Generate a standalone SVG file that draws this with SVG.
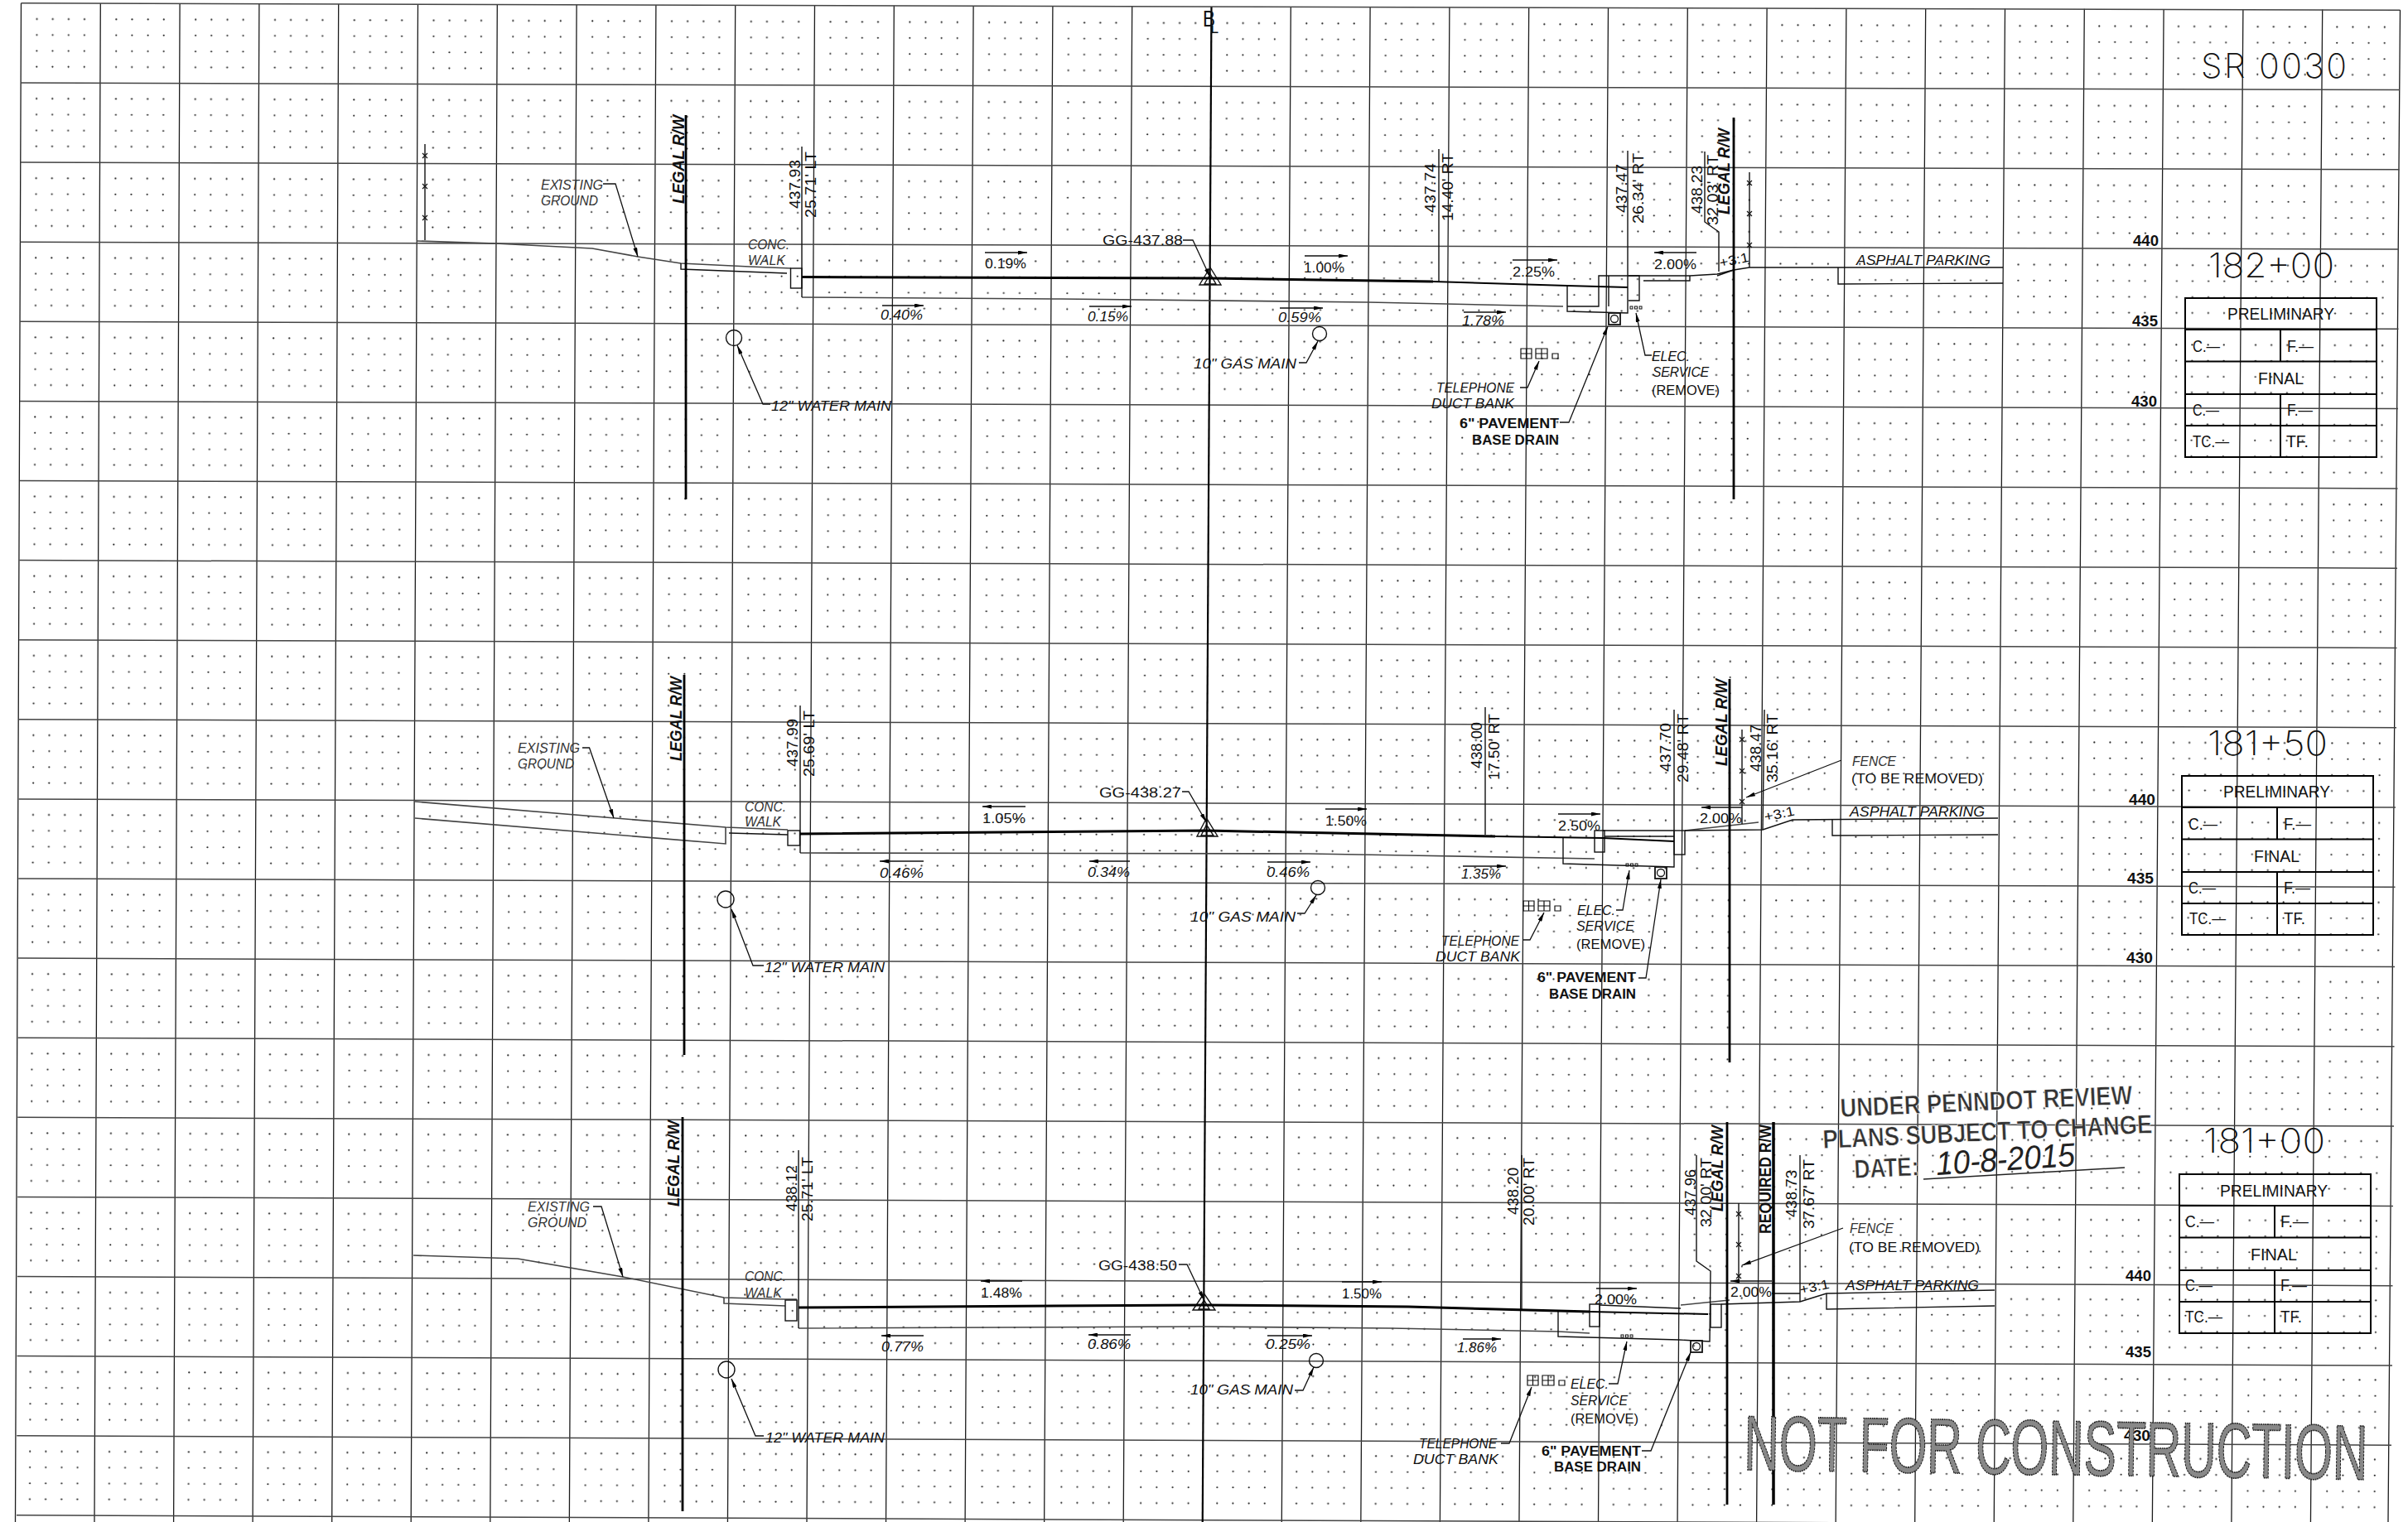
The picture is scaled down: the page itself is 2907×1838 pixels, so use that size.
<svg xmlns="http://www.w3.org/2000/svg" width="2907" height="1838" viewBox="0 0 2907 1838">
<style>
text{font-family:"Liberation Sans",Arial,sans-serif;fill:#111}
.l{font-size:16px;font-style:italic}
.g{font-size:16px;font-style:italic;fill:#333}
.u{font-size:16px}
.b{font-size:16px;font-weight:700}
.n{font-size:19px}
.r{font-size:20px;font-weight:700;font-style:italic}
.q{font-size:20px;font-weight:700}
.h{font-size:20px}
.e{font-size:18px;font-weight:700}
.s{font-size:41px;font-family:"Inter","Liberation Sans",sans-serif;font-weight:200}
.st{font-size:32px;font-weight:700;fill:#333;stroke:#fff;stroke-width:.6;paint-order:normal}
.nf{font-size:94px;fill:#888;stroke:#222;stroke-width:1.6;stroke-dasharray:3 1.2}
.ln{fill:none;stroke:#111;stroke-width:1.4}
.gy{fill:none;stroke:#444;stroke-width:1.6}
.th{fill:none;stroke:#000;stroke-width:3}
.rw{fill:none;stroke:#000;stroke-width:2.8}
.ld{fill:none;stroke:#111;stroke-width:1.3;marker-end:url(#a)}
.sl{fill:none;stroke:#111;stroke-width:1.3;marker-end:url(#a)}
.tb{fill:none;stroke:#000;stroke-width:2}
</style>
<defs>
<marker id="a" markerUnits="userSpaceOnUse" markerWidth="11" markerHeight="5" refX="11" refY="2.5" orient="auto"><path d="M0 0L11 2.5L0 5z" fill="#000"/></marker>
<pattern id="dl" patternUnits="userSpaceOnUse" width="95.8" height="96.1" patternTransform="matrix(1 .0035 -.00484 1 25.5 3.7)"><g id="dots" fill="#222"><circle cx="19.2" cy="19.2" r="1.1"/><circle cx="38.3" cy="19.2" r="1.1"/><circle cx="57.5" cy="19.2" r="1.1"/><circle cx="76.6" cy="19.2" r="1.1"/><circle cx="19.2" cy="38.4" r="1.1"/><circle cx="38.3" cy="38.4" r="1.1"/><circle cx="57.5" cy="38.4" r="1.1"/><circle cx="76.6" cy="38.4" r="1.1"/><circle cx="19.2" cy="57.7" r="1.1"/><circle cx="38.3" cy="57.7" r="1.1"/><circle cx="57.5" cy="57.7" r="1.1"/><circle cx="76.6" cy="57.7" r="1.1"/><circle cx="19.2" cy="76.9" r="1.1"/><circle cx="38.3" cy="76.9" r="1.1"/><circle cx="57.5" cy="76.9" r="1.1"/><circle cx="76.6" cy="76.9" r="1.1"/></g></pattern>
<pattern id="dr" patternUnits="userSpaceOnUse" width="95.7" height="96.1" patternTransform="matrix(1 .0035 -.00686 1 1462.5 8.6)"><use href="#dots"/></pattern>
<path id="x" d="M-3 -3L3 3M-3 3L3 -3" fill="none" stroke="#111" stroke-width="1.2"/>
<g id="duct" fill="none" stroke="#111" stroke-width="1.2"><path d="M0 0h13v12h-13zM6.500 0v12M0 6h13M18 0h14v12h-14zM25 0v12M18 6h14M38 6h7v6h-7z"/></g>
<g id="drain" fill="none" stroke="#111" stroke-width="1.8"><rect width="14" height="14"/><circle cx="7" cy="7" r="4.500" stroke-width="1.3"/></g>
<g id="elec" fill="none" stroke="#111" stroke-width="1"><rect width="3" height="3"/><rect x="5.500" width="3" height="3"/><rect x="11" width="3" height="3"/></g>
<g id="frame" class="tb"><rect width="231" height="192"/><path d="M0 38H231M0 76.500H231M0 116H231M0 154H231M115 38V76.500M115 116V192"/></g>
</defs>

<g id="grid">
<path d="M25.500 3.700L1462.500 8.600L1451.750 1838L18.500 1838Z" fill="url(#dl)"/>
<path d="M1462.500 8.600L2897.500 12.200L2883 1838L1451.750 1838Z" fill="url(#dr)"/>
<path fill="none" stroke="#1c1c1c" stroke-width="1.300" d="M25.500 3.700L18.500 1838M121.300 4L114 1838M217.100 4.500L209.600 1838M312.900 4.800L305.100 1838M408.700 5L400.700 1838M504.500 5.200L496.200 1838M600.300 5.500L591.800 1838M696.100 5.800L687.350 1838M791.900 6L782.900 1838M887.700 6.300L878.450 1838M983.500 6.500L974 1838M1079.300 6.800L1069.550 1838M1175.100 7.100L1165.100 1838M1270.900 7.400L1260.650 1838M1366.700 7.600L1356.200 1838M1558.300 8.200L1547.300 1838M1654.100 8.500L1642.850 1838M1749.900 8.800L1738.400 1838M1845.700 9L1833.950 1838M1941.500 9.300L1929.500 1838M2037.300 9.600L2025.050 1838M2133.100 9.800L2120.600 1838M2228.900 10.100L2216.150 1838M2324.700 10.300L2311.700 1838M2420.500 10.600L2407.250 1838M2516.300 10.800L2502.800 1838M2612.100 11.100L2598.350 1838M2707.900 11.300L2693.900 1838M2803.700 11.600L2789.450 1838M2897.500 12L2883 1838"/>
<path fill="none" stroke="#444" stroke-width="1.500" d="M25.500 3.800L2897.500 12.200M25 100L2897 108.500M24.800 196.100L2896.500 204.800M24.500 292.200L2896 301M24.200 388.300L2895.500 397.300M24 484.400L2895 493.600M23.700 580.500L2894.500 589.900M23.400 676.600L2894 686.200M23.100 772.700L2893.500 782.400M22.900 868.800L2893 878.700M22.600 964.900L2892 975M22.300 1061L2891.500 1071.300M22 1157.100L2891 1167.600M21.700 1253.200L2890.500 1263.800M21.400 1349.300L2890 1360.100M21.200 1445.400L2889 1456.400M20.900 1541.500L2888.500 1552.700M20.600 1637.600L2888 1649M20.300 1733.700L2887 1745.200M20 1829.800L2886.500 1841.500"/>
<path d="M1462.500 8.600L1451.750 1838" fill="none" stroke="#000" stroke-width="2.200"/>
</g>

<g id="centerline">
<text class="h" x="1452" y="32" font-size="27" style="font-size:27px" textLength="15" lengthAdjust="spacingAndGlyphs">B</text>
<text class="q" x="1461" y="40" style="font-size:13px" textLength="10" lengthAdjust="spacingAndGlyphs">L</text>
</g>

<g id="sheet-title">
<text class="s" x="2657" y="94" textLength="176" lengthAdjust="spacing">SR  0030</text>
</g>

<g id="section-182-00">
<g class="gy"><path d="M503 291L598 294L715 300L770 310L822 318L905 322L955 324"/><path d="M968 359L1280 361L1652 365L1887 370"/></g>
<g class="ln">
<path d="M513 174V290"/>
<path d="M822 318V325L950 330"/>
<rect x="954.500" y="324" width="13.500" height="24"/>
<path d="M968 177V359"/>
<path d="M1892 345V376L1965 378V182"/>
<path d="M1892 370H1930V333H1966H1979V363H1966M1930 333H1942V370"/>
<path d="M1737 180V340"/>
<path d="M2058 183V268L2075 280V328"/>
<path d="M1966 333H2040L2073 331L2093 326L2112 323H2218L2418 323"/>
<path d="M1984 339H2040V333M2073 333L2093 326"/>
<path d="M2219 323V343L2418 342"/>
<path d="M2112 208V323"/>
<circle cx="886" cy="408" r="9.500"/>
<circle cx="1593" cy="403" r="8.500"/>
<path d="M1461 323L1448 344H1474ZM1461 331L1454 343H1468Z"/>
</g>
<path class="th" d="M968 334.500L1461 336L1730 340"/>
<path class="th" style="stroke-width:2" d="M1730 340L1892 345L1965 347"/>
<path class="rw" d="M828 139V603M2093 142V603"/>
<use href="#x" x="513" y="188"/><use href="#x" x="513" y="225"/><use href="#x" x="513" y="263"/>
<use href="#x" x="2112" y="221"/><use href="#x" x="2112" y="258"/><use href="#x" x="2112" y="296"/>
<use href="#duct" x="1836" y="421"/><use href="#drain" x="1942" y="378"/><use href="#elec" x="1968" y="370"/>
<g id="conn-182">
<path class="ld" d="M728 222H743L770 310"/>
<path class="ld" d="M930 488H921L890 417"/>
<path class="ld" d="M1428 290H1440L1461 335"/>
<path class="ld" d="M1568 438H1577L1591 412"/>
<path class="ld" d="M1835 468H1844L1858 436"/>
<path class="ld" d="M1883 510H1894L1941 394"/>
<path class="ld" d="M1994 429H1986L1975 378"/>
<path class="sl" d="M1189 305H1240"/><path class="sl" d="M1575 309H1627"/><path class="sl" d="M1826 314H1880"/><path class="sl" d="M2048 305H1997"/>
<path class="sl" d="M1065 369H1115"/><path class="sl" d="M1315 370H1366"/><path class="sl" d="M1545 372H1597"/><path class="sl" d="M1767 377H1818"/>
</g>
<text class="g" x="653" y="229" textLength="75" lengthAdjust="spacingAndGlyphs">EXISTING</text>
<text class="g" x="653" y="248" textLength="69" lengthAdjust="spacingAndGlyphs">GROUND</text>
<text class="g" x="903" y="301" textLength="50" lengthAdjust="spacingAndGlyphs">CONC.</text>
<text class="g" x="903" y="320" textLength="45" lengthAdjust="spacingAndGlyphs">WALK</text>
<text class="l" x="931" y="496" textLength="145" lengthAdjust="spacingAndGlyphs">12" WATER MAIN</text>
<text class="l" x="1441" y="445" textLength="124" lengthAdjust="spacingAndGlyphs">10" GAS MAIN</text>
<text class="u" x="1331" y="296" textLength="97" lengthAdjust="spacingAndGlyphs">GG-437.88</text>
<text class="u" x="1189" y="324" textLength="50" lengthAdjust="spacingAndGlyphs">0.19%</text>
<text class="u" x="1574" y="329" textLength="49" lengthAdjust="spacingAndGlyphs">1.00%</text>
<text class="u" x="1826" y="334" textLength="51" lengthAdjust="spacingAndGlyphs">2.25%</text>
<text class="u" x="1997" y="325" textLength="51" lengthAdjust="spacingAndGlyphs">2.00%</text>
<text class="l" x="1063" y="386" textLength="51" lengthAdjust="spacingAndGlyphs">0.40%</text>
<text class="l" x="1313" y="388" textLength="49" lengthAdjust="spacingAndGlyphs">0.15%</text>
<text class="l" x="1543" y="389" textLength="52" lengthAdjust="spacingAndGlyphs">0.59%</text>
<text class="l" x="1765" y="393" textLength="51" lengthAdjust="spacingAndGlyphs">1.78%</text>
<text class="l" x="1734" y="474" textLength="94" lengthAdjust="spacingAndGlyphs">TELEPHONE</text>
<text class="l" x="1728" y="493" textLength="100" lengthAdjust="spacingAndGlyphs">DUCT BANK</text>
<text class="b" x="1762" y="517" textLength="120" lengthAdjust="spacingAndGlyphs">6" PAVEMENT</text>
<text class="b" x="1777" y="537" textLength="105" lengthAdjust="spacingAndGlyphs">BASE DRAIN</text>
<text class="l" x="1994" y="436" textLength="46" lengthAdjust="spacingAndGlyphs">ELEC.</text>
<text class="l" x="1995" y="455" textLength="68" lengthAdjust="spacingAndGlyphs">SERVICE</text>
<text class="u" x="1994" y="477" textLength="82" lengthAdjust="spacingAndGlyphs">(REMOVE)</text>
<text class="l" x="2241" y="320" textLength="162" lengthAdjust="spacingAndGlyphs">ASPHALT PARKING</text>
<text class="u" transform="translate(2077 323) rotate(-12)" textLength="36" lengthAdjust="spacingAndGlyphs">+3:1</text>
<text class="r" transform="translate(826 246) rotate(-90)" textLength="107" lengthAdjust="spacingAndGlyphs">LEGAL R/W</text>
<text class="r" transform="translate(2088 259) rotate(-90)" textLength="104" lengthAdjust="spacingAndGlyphs">LEGAL R/W</text>
<text class="n" transform="translate(966 252) rotate(-90)" textLength="59" lengthAdjust="spacingAndGlyphs">437.93</text>
<text class="n" transform="translate(985 263) rotate(-90)" textLength="80" lengthAdjust="spacingAndGlyphs">25.71' LT</text>
<text class="n" transform="translate(1733 257) rotate(-90)" textLength="60" lengthAdjust="spacingAndGlyphs">437.74</text>
<text class="n" transform="translate(1754 267) rotate(-90)" textLength="82" lengthAdjust="spacingAndGlyphs">14.40' RT</text>
<text class="n" transform="translate(1964 257) rotate(-90)" textLength="59" lengthAdjust="spacingAndGlyphs">437.47</text>
<text class="n" transform="translate(1984 270) rotate(-90)" textLength="85" lengthAdjust="spacingAndGlyphs">26.34' RT</text>
<text class="n" transform="translate(2055 258) rotate(-90)" textLength="58" lengthAdjust="spacingAndGlyphs">438.23</text>
<text class="n" transform="translate(2074 272) rotate(-90)" textLength="85" lengthAdjust="spacingAndGlyphs">32.03' RT</text>
<text class="e" x="2575" y="297" textLength="31" lengthAdjust="spacingAndGlyphs">440</text>
<text class="e" x="2574" y="394" textLength="31" lengthAdjust="spacingAndGlyphs">435</text>
<text class="e" x="2573" y="491" textLength="31" lengthAdjust="spacingAndGlyphs">430</text>
<text class="s" x="2666" y="335" textLength="152" lengthAdjust="spacingAndGlyphs">182+00</text>
<use href="#frame" x="2638" y="360"/>
<text class="h" x="2689" y="386" textLength="129" lengthAdjust="spacingAndGlyphs">PRELIMINARY</text>
<text class="h" x="2647" y="425" textLength="33" lengthAdjust="spacingAndGlyphs">C.—</text>
<text class="h" x="2761" y="425" textLength="32" lengthAdjust="spacingAndGlyphs">F.—</text>
<text class="h" x="2726" y="464" textLength="55" lengthAdjust="spacingAndGlyphs">FINAL</text>
<text class="h" x="2647" y="502" textLength="32" lengthAdjust="spacingAndGlyphs">C.—</text>
<text class="h" x="2761" y="502" textLength="31" lengthAdjust="spacingAndGlyphs">F.—</text>
<text class="h" x="2647" y="540" textLength="44" lengthAdjust="spacingAndGlyphs">TC.—</text>
<text class="h" x="2760" y="540" textLength="27" lengthAdjust="spacingAndGlyphs">TF.</text>
</g>

<g id="section-181-50">
<g class="gy"><path d="M501 968L876 999L951 1002"/><path d="M501 988L876 1019V999"/><path d="M966 1030L1580 1031L1700 1033L1925 1037"/><path d="M2034 1003L2123 993"/></g>
<g class="ln">
<path d="M880 1006L951 1008"/>
<rect x="951" y="1003" width="14.500" height="18"/>
<path d="M966 852V1030"/>
<rect x="1925" y="1003" width="12" height="26"/>
<path d="M1935 1003H2021M1937 1010H2021"/>
<path d="M1887 1011V1043L2021 1047V857"/>
<rect x="2021" y="1003" width="13" height="29"/>
<path d="M1793 854V1008"/>
<path d="M2034 1003L2128 1002L2164 990L2412 988"/>
<path d="M2212 990V1009L2412 1008"/>
<path d="M2130 857L2128 1002"/>
<path d="M2103 881V995"/>
<circle cx="876" cy="1086" r="10"/>
<circle cx="1591" cy="1072" r="8.500"/>
<path d="M1456.500 988L1445 1010H1470ZM1456.500 996L1450 1009H1465Z"/>
</g>
<path class="th" d="M966 1007L1456 1003L1805 1010"/>
<path class="th" style="stroke-width:2" d="M1805 1010L1935 1012L2021 1016"/>
<path class="rw" d="M826 815V1274M2088 820V1283"/>
<use href="#x" x="2103" y="893"/><use href="#x" x="2103" y="931"/><use href="#x" x="2103" y="968"/>
<use href="#duct" x="1839" y="1088"/><use href="#drain" x="1998" y="1047"/><use href="#elec" x="1963" y="1043"/>
<g id="conn-181-50">
<path class="ld" d="M703 903H711.500L741 988"/>
<path class="ld" d="M922 1166H909L883 1098"/>
<path class="ld" d="M1427 956H1435L1456.500 993"/>
<path class="ld" d="M1566 1103H1575L1589 1081"/>
<path class="ld" d="M1839 1135H1847L1864 1102"/>
<path class="ld" d="M1951 1099H1959L1967 1051"/>
<path class="ld" d="M1978 1181H1987L2005 1062"/>
<path class="ld" d="M2223 918L2108 963"/>
<path class="sl" d="M1238 974H1186"/><path class="sl" d="M1600 977H1650"/><path class="sl" d="M1881 983H1932"/><path class="sl" d="M2103 975H2054"/>
<path class="sl" d="M1115 1040H1062"/><path class="sl" d="M1364 1040H1315"/><path class="sl" d="M1530 1041H1582"/><path class="sl" d="M1766 1046H1818"/>
</g>
<text class="g" x="625" y="909" textLength="75" lengthAdjust="spacingAndGlyphs">EXISTING</text>
<text class="g" x="625" y="928" textLength="68" lengthAdjust="spacingAndGlyphs">GROUND</text>
<text class="g" x="899" y="980" textLength="50" lengthAdjust="spacingAndGlyphs">CONC.</text>
<text class="g" x="899" y="998" textLength="44" lengthAdjust="spacingAndGlyphs">WALK</text>
<text class="l" x="923" y="1174" textLength="145" lengthAdjust="spacingAndGlyphs">12" WATER MAIN</text>
<text class="l" x="1437" y="1113" textLength="127" lengthAdjust="spacingAndGlyphs">10" GAS MAIN</text>
<text class="u" x="1327" y="963" textLength="99" lengthAdjust="spacingAndGlyphs">GG-438.27</text>
<text class="u" x="1186" y="994" textLength="52" lengthAdjust="spacingAndGlyphs">1.05%</text>
<text class="u" x="1600" y="997" textLength="50" lengthAdjust="spacingAndGlyphs">1.50%</text>
<text class="u" x="1881" y="1003" textLength="51" lengthAdjust="spacingAndGlyphs">2.50%</text>
<text class="u" x="2052" y="994" textLength="51" lengthAdjust="spacingAndGlyphs">2.00%</text>
<text class="l" x="1062" y="1060" textLength="53" lengthAdjust="spacingAndGlyphs">0.46%</text>
<text class="l" x="1313" y="1059" textLength="51" lengthAdjust="spacingAndGlyphs">0.34%</text>
<text class="l" x="1529" y="1059" textLength="52" lengthAdjust="spacingAndGlyphs">0.46%</text>
<text class="l" x="1764" y="1061" textLength="48" lengthAdjust="spacingAndGlyphs">1.35%</text>
<text class="l" x="1740" y="1142" textLength="94" lengthAdjust="spacingAndGlyphs">TELEPHONE</text>
<text class="l" x="1733" y="1161" textLength="102" lengthAdjust="spacingAndGlyphs">DUCT BANK</text>
<text class="b" x="1856" y="1186" textLength="119" lengthAdjust="spacingAndGlyphs">6" PAVEMENT</text>
<text class="b" x="1870" y="1206" textLength="105" lengthAdjust="spacingAndGlyphs">BASE DRAIN</text>
<text class="l" x="1904" y="1105" textLength="46" lengthAdjust="spacingAndGlyphs">ELEC.</text>
<text class="l" x="1903" y="1124" textLength="70" lengthAdjust="spacingAndGlyphs">SERVICE</text>
<text class="u" x="1903" y="1146" textLength="83" lengthAdjust="spacingAndGlyphs">(REMOVE)</text>
<text class="g" x="2236" y="925" textLength="53" lengthAdjust="spacingAndGlyphs">FENCE</text>
<text class="u" x="2235" y="946" textLength="159" lengthAdjust="spacingAndGlyphs">(TO BE REMOVED)</text>
<text class="l" x="2233" y="986" textLength="163" lengthAdjust="spacingAndGlyphs">ASPHALT PARKING</text>
<text class="u" transform="translate(2131 992) rotate(-12)" textLength="37" lengthAdjust="spacingAndGlyphs">+3:1</text>
<text class="r" transform="translate(823 919) rotate(-90)" textLength="102" lengthAdjust="spacingAndGlyphs">LEGAL R/W</text>
<text class="r" transform="translate(2085 925) rotate(-90)" textLength="105" lengthAdjust="spacingAndGlyphs">LEGAL R/W</text>
<text class="n" transform="translate(963 926) rotate(-90)" textLength="58" lengthAdjust="spacingAndGlyphs">437.99</text>
<text class="n" transform="translate(983 938) rotate(-90)" textLength="80" lengthAdjust="spacingAndGlyphs">25.69' LT</text>
<text class="n" transform="translate(1789 928) rotate(-90)" textLength="56" lengthAdjust="spacingAndGlyphs">438.00</text>
<text class="n" transform="translate(1810 942) rotate(-90)" textLength="80" lengthAdjust="spacingAndGlyphs">17.50' RT</text>
<text class="n" transform="translate(2017 932) rotate(-90)" textLength="59" lengthAdjust="spacingAndGlyphs">437.70</text>
<text class="n" transform="translate(2038 945) rotate(-90)" textLength="83" lengthAdjust="spacingAndGlyphs">29.48' RT</text>
<text class="n" transform="translate(2126 932) rotate(-90)" textLength="57" lengthAdjust="spacingAndGlyphs">438.47</text>
<text class="n" transform="translate(2146 945) rotate(-90)" textLength="83" lengthAdjust="spacingAndGlyphs">35.16' RT</text>
<text class="e" x="2570" y="972" textLength="32" lengthAdjust="spacingAndGlyphs">440</text>
<text class="e" x="2568" y="1067" textLength="32" lengthAdjust="spacingAndGlyphs">435</text>
<text class="e" x="2567" y="1163" textLength="32" lengthAdjust="spacingAndGlyphs">430</text>
<text class="s" x="2665" y="912" textLength="145" lengthAdjust="spacingAndGlyphs">181+50</text>
<use href="#frame" x="2634" y="937"/>
<text class="h" x="2684" y="963" textLength="129" lengthAdjust="spacingAndGlyphs">PRELIMINARY</text>
<text class="h" x="2642" y="1002" textLength="35" lengthAdjust="spacingAndGlyphs">C.—</text>
<text class="h" x="2757" y="1002" textLength="33" lengthAdjust="spacingAndGlyphs">F.—</text>
<text class="h" x="2721" y="1041" textLength="55" lengthAdjust="spacingAndGlyphs">FINAL</text>
<text class="h" x="2642" y="1079" textLength="33" lengthAdjust="spacingAndGlyphs">C.—</text>
<text class="h" x="2757" y="1079" textLength="32" lengthAdjust="spacingAndGlyphs">F.—</text>
<text class="h" x="2643" y="1116" textLength="44" lengthAdjust="spacingAndGlyphs">TC.—</text>
<text class="h" x="2757" y="1116" textLength="26" lengthAdjust="spacingAndGlyphs">TF.</text>
</g>

<g id="section-181-00">
<g class="gy"><path d="M499 1516L625 1520L752 1542L874 1567L947 1569H962"/><path d="M874 1567V1574L948 1577"/><path d="M964 1604L1452 1602L1680 1604L1881 1608L1919 1610"/><path d="M2029 1576L2088 1570"/></g>
<g class="ln">
<rect x="948" y="1570" width="14" height="25"/>
<path d="M964 1389V1604"/>
<rect x="1919" y="1575" width="12" height="27"/>
<path d="M1931 1576L2029 1580"/>
<path d="M1881 1583V1614L2027 1618L2064 1620L2065 1535L2048 1523V1395"/>
<rect x="2065" y="1575" width="13" height="28"/>
<path d="M1837 1395V1582"/>
<path d="M2078 1575L2173 1572L2205 1562L2408 1558"/>
<path d="M2205 1562V1581L2408 1577"/>
<path d="M2139 1562H2173M2173 1395V1572"/>
<path d="M2099 1453V1545"/>
<circle cx="877" cy="1654" r="10"/>
<circle cx="1589" cy="1643" r="8.500"/>
<path d="M1453.500 1562L1440 1582H1467ZM1453.500 1570L1447 1581H1460Z"/>
</g>
<path class="th" d="M964 1579L1452 1576L1700 1578L1919 1584"/>
<path class="th" style="stroke-width:2" d="M1919 1584L2062 1587"/>
<path class="rw" d="M824 1349V1825M2085 1355V1817"/>
<path class="rw" style="stroke-width:3.500" d="M2141 1355V1817"/>
<use href="#x" x="2099" y="1466"/><use href="#x" x="2099" y="1503"/><use href="#x" x="2099" y="1541"/>
<use href="#duct" x="1844" y="1661"/><use href="#drain" x="2041" y="1619"/><use href="#elec" x="1957" y="1612"/>
<g id="conn-181-00">
<path class="ld" d="M716 1457H726L752 1542"/>
<path class="ld" d="M922 1734H912L883 1665"/>
<path class="ld" d="M1423 1527H1433L1453.500 1570"/>
<path class="ld" d="M1563 1679H1573L1586 1651"/>
<path class="ld" d="M1812 1743H1822L1849 1675"/>
<path class="ld" d="M1942 1671H1953L1964 1620"/>
<path class="ld" d="M1982 1752H1993L2041 1633"/>
<path class="ld" d="M2225 1483L2103 1528"/>
<path class="sl" d="M1234 1547H1184"/><path class="sl" d="M1620 1548H1668"/><path class="sl" d="M1927 1556H1976"/><path class="sl" d="M2139 1547H2089"/>
<path class="sl" d="M1115 1613H1064"/><path class="sl" d="M1365 1612H1314"/><path class="sl" d="M1530 1613H1584"/><path class="sl" d="M1766 1617H1812"/>
</g>
<text class="g" x="637" y="1463" textLength="75" lengthAdjust="spacingAndGlyphs">EXISTING</text>
<text class="g" x="637" y="1482" textLength="71" lengthAdjust="spacingAndGlyphs">GROUND</text>
<text class="g" x="899" y="1547" textLength="50" lengthAdjust="spacingAndGlyphs">CONC.</text>
<text class="g" x="899" y="1567" textLength="45" lengthAdjust="spacingAndGlyphs">WALK</text>
<text class="l" x="924" y="1742" textLength="144" lengthAdjust="spacingAndGlyphs">12" WATER MAIN</text>
<text class="l" x="1437" y="1684" textLength="124" lengthAdjust="spacingAndGlyphs">10" GAS MAIN</text>
<text class="u" x="1326" y="1534" textLength="95" lengthAdjust="spacingAndGlyphs">GG-438.50</text>
<text class="u" x="1184" y="1567" textLength="50" lengthAdjust="spacingAndGlyphs">1.48%</text>
<text class="u" x="1620" y="1568" textLength="48" lengthAdjust="spacingAndGlyphs">1.50%</text>
<text class="u" x="1925" y="1575" textLength="51" lengthAdjust="spacingAndGlyphs">2.00%</text>
<text class="u" x="2089" y="1566" textLength="50" lengthAdjust="spacingAndGlyphs">2.00%</text>
<text class="l" x="1064" y="1632" textLength="51" lengthAdjust="spacingAndGlyphs">0.77%</text>
<text class="l" x="1313" y="1629" textLength="52" lengthAdjust="spacingAndGlyphs">0.86%</text>
<text class="l" x="1528" y="1629" textLength="54" lengthAdjust="spacingAndGlyphs">0.25%</text>
<text class="l" x="1759" y="1633" textLength="48" lengthAdjust="spacingAndGlyphs">1.86%</text>
<text class="l" x="1713" y="1749" textLength="94" lengthAdjust="spacingAndGlyphs">TELEPHONE</text>
<text class="l" x="1706" y="1768" textLength="103" lengthAdjust="spacingAndGlyphs">DUCT BANK</text>
<text class="b" x="1861" y="1758" textLength="120" lengthAdjust="spacingAndGlyphs">6" PAVEMENT</text>
<text class="b" x="1876" y="1777" textLength="105" lengthAdjust="spacingAndGlyphs">BASE DRAIN</text>
<text class="l" x="1896" y="1677" textLength="46" lengthAdjust="spacingAndGlyphs">ELEC.</text>
<text class="l" x="1896" y="1697" textLength="69" lengthAdjust="spacingAndGlyphs">SERVICE</text>
<text class="u" x="1896" y="1719" textLength="82" lengthAdjust="spacingAndGlyphs">(REMOVE)</text>
<text class="g" x="2233" y="1489" textLength="53" lengthAdjust="spacingAndGlyphs">FENCE</text>
<text class="u" x="2232" y="1512" textLength="158" lengthAdjust="spacingAndGlyphs">(TO BE REMOVED)</text>
<text class="l" x="2228" y="1558" textLength="161" lengthAdjust="spacingAndGlyphs">ASPHALT PARKING</text>
<text class="u" transform="translate(2174 1563) rotate(-12)" textLength="36" lengthAdjust="spacingAndGlyphs">+3:1</text>
<text class="r" transform="translate(820 1457) rotate(-90)" textLength="104" lengthAdjust="spacingAndGlyphs">LEGAL R/W</text>
<text class="r" transform="translate(2080 1463) rotate(-90)" textLength="104" lengthAdjust="spacingAndGlyphs">LEGAL R/W</text>
<text class="q" transform="translate(2138 1490) rotate(-90)" textLength="132" lengthAdjust="spacingAndGlyphs">REQUIRED R/W</text>
<text class="n" transform="translate(962 1463) rotate(-90)" textLength="56" lengthAdjust="spacingAndGlyphs">438.12</text>
<text class="n" transform="translate(981 1475) rotate(-90)" textLength="78" lengthAdjust="spacingAndGlyphs">25.71' LT</text>
<text class="n" transform="translate(1833 1467) rotate(-90)" textLength="57" lengthAdjust="spacingAndGlyphs">438.20</text>
<text class="n" transform="translate(1852 1480) rotate(-90)" textLength="82" lengthAdjust="spacingAndGlyphs">20.00' RT</text>
<text class="n" transform="translate(2047 1468) rotate(-90)" textLength="56" lengthAdjust="spacingAndGlyphs">437.96</text>
<text class="n" transform="translate(2066 1482) rotate(-90)" textLength="84" lengthAdjust="spacingAndGlyphs">32.00' RT</text>
<text class="n" transform="translate(2169 1470) rotate(-90)" textLength="57" lengthAdjust="spacingAndGlyphs">438.73</text>
<text class="n" transform="translate(2190 1484) rotate(-90)" textLength="84" lengthAdjust="spacingAndGlyphs">37.67' RT</text>
<text class="e" x="2566" y="1547" textLength="31" lengthAdjust="spacingAndGlyphs">440</text>
<text class="e" x="2566" y="1639" textLength="31" lengthAdjust="spacingAndGlyphs">435</text>
<text class="e" x="2564" y="1740" textLength="32" lengthAdjust="spacingAndGlyphs">430</text>
<text class="s" x="2660" y="1392" textLength="147" lengthAdjust="spacingAndGlyphs">181+00</text>
<use href="#frame" x="2631" y="1418"/>
<text class="h" x="2680" y="1445" textLength="130" lengthAdjust="spacingAndGlyphs">PRELIMINARY</text>
<text class="h" x="2638" y="1482" textLength="35" lengthAdjust="spacingAndGlyphs">C.—</text>
<text class="h" x="2753" y="1482" textLength="34" lengthAdjust="spacingAndGlyphs">F.—</text>
<text class="h" x="2717" y="1522" textLength="56" lengthAdjust="spacingAndGlyphs">FINAL</text>
<text class="h" x="2638" y="1559" textLength="33" lengthAdjust="spacingAndGlyphs">C.—</text>
<text class="h" x="2753" y="1559" textLength="32" lengthAdjust="spacingAndGlyphs">F.—</text>
<text class="h" x="2638" y="1597" textLength="45" lengthAdjust="spacingAndGlyphs">TC.—</text>
<text class="h" x="2753" y="1597" textLength="26" lengthAdjust="spacingAndGlyphs">TF.</text>
</g>

<g id="stamps">
<text class="st" transform="translate(2222 1349) rotate(-2.600)" textLength="353" lengthAdjust="spacingAndGlyphs">UNDER PENNDOT REVIEW</text>
<text class="st" transform="translate(2201 1387) rotate(-2.700)" textLength="398" lengthAdjust="spacingAndGlyphs">PLANS SUBJECT TO CHANGE</text>
<text class="st" transform="translate(2239 1423) rotate(-2.700)" textLength="78" lengthAdjust="spacingAndGlyphs">DATE:</text>
<text style="font-size:40px;font-style:italic;fill:#222" transform="translate(2338 1419) rotate(-3.800)" textLength="168" lengthAdjust="spacingAndGlyphs">10-8-2015</text>
<path d="M2322 1424L2565 1410" fill="none" stroke="#222" stroke-width="1.400"/>
<text class="nf" transform="translate(2105 1775) rotate(.9)" textLength="753" lengthAdjust="spacingAndGlyphs">NOT FOR CONSTRUCTION</text>
</g>
</svg>
